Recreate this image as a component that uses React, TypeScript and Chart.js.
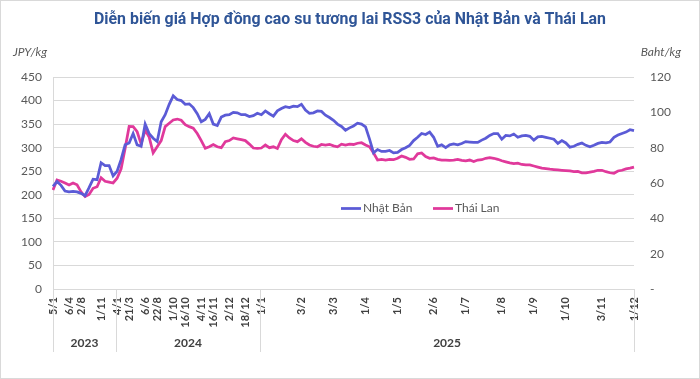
import React, { useEffect, useRef } from 'react';
import { Chart, registerables } from 'chart.js';

Chart.register(...registerables);

const TITLE = 'Diễn biến giá Hợp đồng cao su tương lai RSS3 của Nhật Bản và Thái Lan';
const LEFT_UNIT = 'JPY/kg';
const RIGHT_UNIT = 'Baht/kg';
const SERIES_NAMES = ['Nhật Bản', 'Thái Lan'];

// Japan RSS3 futures, JPY/kg (left axis)
const JAPAN = [
  218, 228, 220, 208, 206, 207, 206, 203, 198, 215,
  233, 232, 268, 262, 262, 240, 250, 275, 306, 310,
  330, 306, 303, 350, 330, 320, 313, 355, 370, 392,
  410, 402, 400, 392, 393, 385, 372, 355, 360, 372,
  350, 347, 365, 369, 370, 375, 374, 370, 370, 366,
  368, 373, 370, 378, 372, 367, 378, 383, 387, 385,
  388, 387, 392, 380, 373, 374, 378, 377, 369, 364,
  358, 350, 345, 337, 342, 346, 352, 350, 344, 318,
  289, 296, 292, 292, 294, 289, 290, 296, 300, 305,
  315, 322, 330, 328, 333, 322, 303, 306, 300, 306,
  308, 306, 309, 313, 312, 311, 311, 316, 320, 326,
  330, 330, 318, 326, 325, 329, 322, 325, 326, 324,
  316, 323, 324, 322, 320, 318, 309, 315, 310, 301,
  303, 307, 310, 305, 302, 305, 309, 311, 310, 312,
  322, 327, 330, 333, 338, 336,
];

// Thailand RSS3 futures, Baht/kg (right axis)
const THAILAND = [
  56, 61.7, 61, 60, 58.9, 60, 59, 55, 52.3, 53.5,
  57, 57.9, 63, 61, 60.5, 60, 62.7, 68, 79.6, 92,
  91.9, 89, 82, 90, 86, 77, 80.5, 84, 91.9, 93.8,
  95.7, 96.2, 95.5, 93, 91.9, 91, 88, 84, 79.6, 80.5,
  81.8, 80.5, 80, 83.4, 84, 85.5, 85, 84.5, 84, 82,
  79.8, 79.6, 79.8, 81.5, 80, 80.5, 79.5, 84.5, 87.6, 85.5,
  84, 83.4, 85, 83, 81.5, 80.8, 80.5, 81.8, 81.5, 81.9,
  81, 80.5, 82, 81.5, 82, 81.8, 82.5, 82.8, 81.5, 80.5,
  77, 73, 73.4, 73, 73.4, 73.2, 74, 75.3, 74.5, 73.4,
  73.6, 76.5, 77, 75, 74, 74.2, 73.4, 73, 73, 72.8,
  73, 73.4, 72.8, 72.5, 73, 72.2, 73, 73.2, 74, 74.3,
  74, 73.4, 72.6, 72, 71.4, 71, 71.2, 70.5, 70.2, 70.2,
  69.6, 69, 68.4, 68.1, 67.8, 67.6, 67.4, 67.2, 67, 66.8,
  66.4, 66.6, 65.8, 65.8, 66.2, 66.6, 67.2, 67.2, 66.4, 65.8,
  65.5, 66.8, 67.2, 68, 68.4, 69,
];

// Labelled dates on the category axis (index into the series)
const TICK_INDEX = [0, 4, 7, 12, 16, 19, 23, 26, 30, 33, 37, 40, 44, 48, 52, 62, 70, 78, 86, 95, 103, 112, 120, 128, 137, 145];
const TICK_TEXT = ['5/1', '6/4', '2/8', '1/11', '4/1', '21/3', '6/6', '22/8', '1/10', '16/10', '4/11', '16/11', '2/12', '18/12', '1/1', '3/2', '3/3', '1/4', '1/5', '2/6', '1/7', '1/8', '1/9', '1/10', '3/11', '1/12'];

const YEARS = ['2023', '2024', '2025'];
const YEAR_START = [0, 16, 52];

const LEFT_MIN = 0;
const LEFT_MAX = 450;
const LEFT_STEP = 50;
const RIGHT_MIN = 0;
const RIGHT_MAX = 120;
const RIGHT_STEP = 20;

const BLUE = '#5B5BD6';
const PINK = '#E0399B';
const GRID = '#d9d9d9';
const TEXT = '#595959';
const DARK = '#404040';

const CATEGORIES: string[] = JAPAN.map((_, i) => {
  const k = TICK_INDEX.indexOf(i);
  return k >= 0 ? TICK_TEXT[k] : '';
});

const decor = {
  id: 'decor',
  beforeDraw(chart: any) {
    const ctx = chart.ctx;
    ctx.save();
    ctx.fillStyle = '#ffffff';
    ctx.fillRect(0, 0, chart.width, chart.height);
    ctx.restore();
  },
  afterDraw(chart: any) {
    const ctx = chart.ctx;
    const { left, right, bottom } = chart.chartArea;
    const xs = chart.scales.x;
    ctx.save();
    // outer frame
    ctx.strokeStyle = GRID;
    ctx.lineWidth = 1;
    ctx.strokeRect(0.5, 0.5, chart.width - 1, chart.height - 1);

    // title
    ctx.fillStyle = '#2F5597';
    ctx.font = 'bold 17px Roboto';
    ctx.textAlign = 'center';
    ctx.textBaseline = 'middle';
    ctx.fillText(TITLE, chart.width / 2, 20, 512);

    // unit labels
    ctx.font = 'italic 12px Lato';
    ctx.fillStyle = TEXT;
    ctx.textAlign = 'left';
    ctx.fillText(LEFT_UNIT, 13, 52);
    ctx.textAlign = 'right';
    ctx.fillText(RIGHT_UNIT, 681, 52);

    // year group separators
    const step = xs.getPixelForValue(1) - xs.getPixelForValue(0);
    const seps = [left, ...YEAR_START.slice(1).map((s) => xs.getPixelForValue(s) - 0.3 * step), right];
    ctx.strokeStyle = GRID;
    ctx.beginPath();
    seps.forEach((sx) => {
      const px = Math.round(sx) + 0.5;
      ctx.moveTo(px, bottom);
      ctx.lineTo(px, bottom + 63);
    });
    ctx.stroke();

    // year labels
    ctx.font = 'bold 12px Lato';
    ctx.fillStyle = DARK;
    ctx.textAlign = 'center';
    YEARS.forEach((y, i) => {
      ctx.fillText(y, (seps[i] + seps[i + 1]) / 2, bottom + 54);
    });

    // legend
    const legendX = [341, 433];
    const legendY = 208.5;
    ctx.font = '12px Lato';
    ctx.textAlign = 'left';
    chart.data.datasets.forEach((ds: any, i: number) => {
      ctx.strokeStyle = ds.borderColor;
      ctx.lineWidth = 2.75;
      ctx.beginPath();
      ctx.moveTo(legendX[i], legendY);
      ctx.lineTo(legendX[i] + 20, legendY);
      ctx.stroke();
      ctx.fillStyle = TEXT;
      ctx.fillText(ds.label, legendX[i] + 22, legendY);
    });
    ctx.restore();
  },
};

export default function App() {
  const ref = useRef<HTMLCanvasElement | null>(null);
  useEffect(() => {
    if (!ref.current) return;
    const chart = new Chart(ref.current, {
      type: 'line',
      data: {
        labels: CATEGORIES,
        datasets: [
          {
            label: SERIES_NAMES[0],
            data: JAPAN,
            yAxisID: 'y',
            borderColor: BLUE,
            backgroundColor: BLUE,
            borderWidth: 2.75,
            pointRadius: 0,
            tension: 0,
          },
          {
            label: SERIES_NAMES[1],
            data: THAILAND,
            yAxisID: 'y1',
            borderColor: PINK,
            backgroundColor: PINK,
            borderWidth: 2.75,
            pointRadius: 0,
            tension: 0,
          },
        ],
      },
      options: {
        animation: false,
        responsive: false,
        layout: { padding: { top: 77, left: 0, right: 0, bottom: 0 } },
        plugins: {
          legend: { display: false },
          title: { display: false },
          tooltip: { enabled: false },
        },
        scales: {
          x: {
            type: 'category',
            offset: false,
            grid: { display: false, drawTicks: false },
            border: { display: false },
            ticks: {
              autoSkip: false,
              minRotation: 90,
              maxRotation: 90,
              padding: 8,
              color: DARK,
              font: { family: 'Lato', size: 11, weight: 'bold' },
            },
            afterFit: (s: any) => {
              s.height = 90;
            },
          },
          y: {
            position: 'left',
            min: LEFT_MIN,
            max: LEFT_MAX,
            ticks: { stepSize: LEFT_STEP, padding: 11, color: TEXT, font: { family: 'Lato', size: 12 } },
            grid: { color: GRID, drawTicks: false, lineWidth: 1 },
            border: { display: true, color: GRID },
            afterFit: (s: any) => {
              s.width = 53;
            },
          },
          y1: {
            position: 'right',
            min: RIGHT_MIN,
            max: RIGHT_MAX,
            ticks: {
              stepSize: RIGHT_STEP,
              padding: 16,
              color: TEXT,
              font: { family: 'Lato', size: 12 },
              callback: (v: any) => (v === 0 ? '-' : String(v)),
            },
            grid: { display: false, drawTicks: false },
            border: { display: false },
            afterFit: (s: any) => {
              s.width = 66;
            },
          },
        },
      },
      plugins: [decor],
    } as any);
    return () => chart.destroy();
  }, []);

  return (
    <div style={{ position: 'absolute', left: 0, top: 0, width: 700, height: 379 }}>
      <canvas ref={ref} width={700} height={379} style={{ width: 700, height: 379, display: 'block' }} />
    </div>
  );
}
